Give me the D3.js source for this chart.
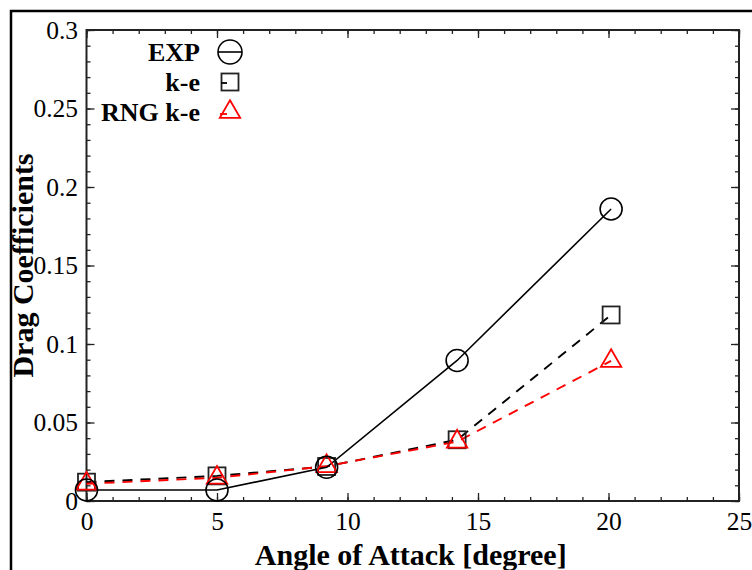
<!DOCTYPE html>
<html>
<head>
<meta charset="utf-8">
<script src="https://cdn.jsdelivr.net/npm/d3@7"></script>
<style>
  body { margin: 0; background: #fff; }
  svg text { font-family: "Liberation Serif", "Times New Roman", serif; fill: #000; }
</style>
</head>
<body>
<div id="chart"></div>
<script>
// angle of attack [degree]
var angles = [0, 5, 9.2, 14.2, 20.1];
// drag coefficients
var expVals = [0.007, 0.007, 0.0215, 0.0895, 0.186];
var keVals  = [0.012, 0.016, 0.022, 0.039, 0.1185];
var rngVals = [0.011, 0.0148, 0.0222, 0.0378, 0.0892];

var xMajor = [0, 5, 10, 15, 20, 25];
var xMinor = d3.range(0, 26, 1);
var yMajor = [0, 0.05, 0.1, 0.15, 0.2, 0.25, 0.3];
var yMinor = d3.range(0, 0.3001, 0.01);
var yTickLabels = ["0", "0.05", "0.1", "0.15", "0.2", "0.25", "0.3"];

var seriesNames = ["EXP", "k-e", "RNG k-e"];

var width = 752, height = 570;
var margin = { top: 30, right: 13, bottom: 69, left: 86.5 };
var w = width - margin.left - margin.right;
var h = height - margin.top - margin.bottom;

var svg = d3.select("#chart").append("svg")
  .attr("width", width)
  .attr("height", height);

// outer frame (only top and left edges show in the crop)
svg.append("path")
  .attr("d", "M11,570 L11,11 L752,11")
  .attr("fill", "none")
  .attr("stroke", "#000")
  .attr("stroke-width", 2.5);

var g = svg.append("g")
  .attr("transform", "translate(" + margin.left + "," + margin.top + ")");

var x = d3.scaleLinear().domain([0, 25]).range([0, w]);
var y = d3.scaleLinear().domain([0, 0.3]).range([h, 0]);

// minor ticks on all four sides
function minorAxes() {
  g.append("g").attr("transform", "translate(0," + h + ")")
    .call(d3.axisBottom(x).tickValues(xMinor).tickSize(-4).tickFormat(""));
  g.append("g")
    .call(d3.axisTop(x).tickValues(xMinor).tickSize(-4).tickFormat(""));
  g.append("g")
    .call(d3.axisLeft(y).tickValues(yMinor).tickSize(-4).tickFormat(""));
  g.append("g").attr("transform", "translate(" + w + ",0)")
    .call(d3.axisRight(y).tickValues(yMinor).tickSize(-4).tickFormat(""));
}
minorAxes();

g.append("g").attr("transform", "translate(0," + h + ")")
  .call(d3.axisBottom(x).tickValues(xMajor).tickSize(-8).tickPadding(11).tickFormat(d => d));
g.append("g")
  .call(d3.axisTop(x).tickValues(xMajor).tickSize(-8).tickFormat(""));
g.append("g")
  .call(d3.axisLeft(y).tickValues(yMajor).tickSize(-8).tickPadding(8.5)
    .tickFormat((d, i) => yTickLabels[i]));
g.append("g").attr("transform", "translate(" + w + ",0)")
  .call(d3.axisRight(y).tickValues(yMajor).tickSize(-8).tickFormat(""));

g.selectAll(".domain").remove();
g.selectAll(".tick line").attr("stroke", "#222").attr("stroke-width", 1.3);
g.selectAll(".tick text").style("font-size", "25.5px").attr("fill", "#000");

g.append("rect")
  .attr("width", w).attr("height", h)
  .attr("fill", "none")
  .attr("stroke", "#222")
  .attr("stroke-width", 2);

// axis titles
g.append("text")
  .attr("x", w / 2 - 2)
  .attr("y", h + 64)
  .attr("text-anchor", "middle")
  .style("font-size", "30px")
  .style("font-weight", "bold")
  .text("Angle of Attack [degree]");

g.append("text")
  .attr("transform", "rotate(-90)")
  .attr("x", -h / 2)
  .attr("y", 33 - margin.left)
  .attr("text-anchor", "middle")
  .style("font-size", "30px")
  .style("font-weight", "bold")
  .text("Drag Coefficients");

// lines
var line = d3.line().x((d, i) => x(angles[i])).y(d => y(d));

g.append("path").datum(keVals)
  .attr("d", line).attr("fill", "none")
  .attr("stroke", "#000").attr("stroke-width", 1.9)
  .attr("stroke-dasharray", "10,8");

g.append("path").datum(rngVals)
  .attr("d", line).attr("fill", "none")
  .attr("stroke", "#ff0000").attr("stroke-width", 1.9)
  .attr("stroke-dasharray", "10,8");

g.append("path").datum(expVals)
  .attr("d", line).attr("fill", "none")
  .attr("stroke", "#000").attr("stroke-width", 1.6);

// markers
var sq = 17;
g.selectAll(".ke").data(keVals).join("rect")
  .attr("class", "ke")
  .attr("x", (d, i) => x(angles[i]) - sq / 2)
  .attr("y", d => y(d) - sq / 2)
  .attr("width", sq).attr("height", sq)
  .attr("fill", "none").attr("stroke", "#222").attr("stroke-width", 1.8);

var tri = d3.symbol().type(d3.symbolTriangle).size(180);
g.selectAll(".rng").data(rngVals).join("path")
  .attr("class", "rng")
  .attr("d", tri)
  .attr("transform", (d, i) => "translate(" + x(angles[i]) + "," + y(d) + ")")
  .attr("fill", "none").attr("stroke", "#ff0000").attr("stroke-width", 1.8);

g.selectAll(".exp").data(expVals).join("circle")
  .attr("class", "exp")
  .attr("cx", (d, i) => x(angles[i]))
  .attr("cy", d => y(d))
  .attr("r", 11)
  .attr("fill", "none").attr("stroke", "#000").attr("stroke-width", 1.6);

// legend
var legY = [52, 82, 112];
var leg = svg.append("g");
leg.selectAll("text").data(seriesNames).join("text")
  .attr("x", 200)
  .attr("y", (d, i) => legY[i] + 9)
  .attr("text-anchor", "end")
  .style("font-size", "26px")
  .style("font-weight", "bold")
  .text(d => d);

var lx = 230;
leg.append("circle").attr("cx", lx).attr("cy", legY[0]).attr("r", 12)
  .attr("fill", "none").attr("stroke", "#000").attr("stroke-width", 1.6);
leg.append("line").attr("x1", lx - 12).attr("x2", lx + 12)
  .attr("y1", legY[0]).attr("y2", legY[0])
  .attr("stroke", "#000").attr("stroke-width", 1.6);

leg.append("rect").attr("x", lx - sq / 2).attr("y", legY[1] - sq / 2)
  .attr("width", sq).attr("height", sq)
  .attr("fill", "none").attr("stroke", "#222").attr("stroke-width", 1.8);
leg.append("line").attr("x1", lx - 9).attr("x2", lx - 3)
  .attr("y1", legY[1] + 1).attr("y2", legY[1] + 1)
  .attr("stroke", "#000").attr("stroke-width", 1.8);

leg.append("path").attr("d", tri)
  .attr("transform", "translate(" + lx + "," + legY[2] + ")")
  .attr("fill", "none").attr("stroke", "#ff0000").attr("stroke-width", 1.8);
leg.append("line").attr("x1", lx - 10).attr("x2", lx - 3)
  .attr("y1", legY[2] + 2).attr("y2", legY[2] + 2)
  .attr("stroke", "#ff0000").attr("stroke-width", 1.8);
</script>
</body>
</html>
